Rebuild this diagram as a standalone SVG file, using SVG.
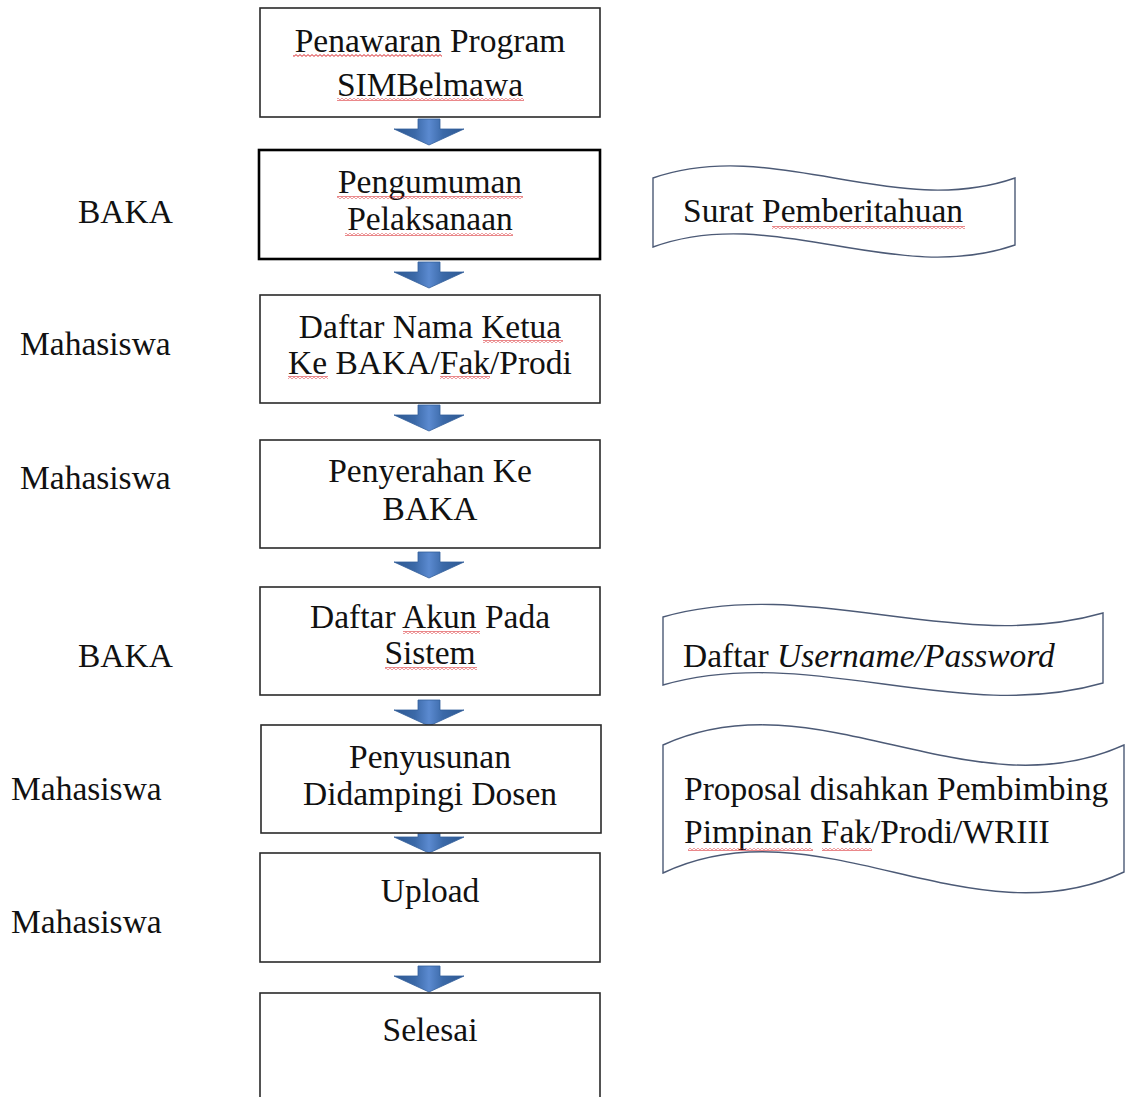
<svg xmlns="http://www.w3.org/2000/svg" xmlns:xlink="http://www.w3.org/1999/xlink" width="1126" height="1097" viewBox="0 0 1126 1097">
<style>
text{font-family:"Liberation Serif","Times New Roman",serif;font-size:33.5px;fill:#111}
.c{text-anchor:middle}
.box{fill:#fff;stroke:#2a2a2a;stroke-width:1.6}
.box2{fill:#fff;stroke:#000;stroke-width:2.6}
.ban{fill:#fff;stroke:#4c5a76;stroke-width:1.4}
.sq{fill:url(#sqp)}
</style>
<defs>
<linearGradient id="ag" x1="0" y1="0" x2="1" y2="0">
<stop offset="0" stop-color="#2d5891"/>
<stop offset="0.3" stop-color="#3b69a8"/>
<stop offset="0.5" stop-color="#5b8ad0"/>
<stop offset="0.7" stop-color="#3b69a8"/>
<stop offset="1" stop-color="#2d5891"/>
</linearGradient>
<path id="arr" d="M-11,0 H11 V10 H35 L0,26 L-35,10 H-11 Z" fill="url(#ag)" stroke="#34609c" stroke-width="0.8"/>
<pattern id="sqp" x="0" y="0" width="4" height="3" patternUnits="userSpaceOnUse">
<path d="M0,0.6 L2,2.4 L4,0.6" fill="none" stroke="#d9262b" stroke-width="1"/>
</pattern>
</defs>
<rect width="1126" height="1097" fill="#fff"/>

<g id="connectors">
<use href="#arr" x="429" y="119"/>
<use href="#arr" x="429" y="262"/>
<use href="#arr" x="429" y="405"/>
<use href="#arr" x="429" y="552"/>
<use href="#arr" x="429" y="700"/>
<use href="#arr" x="429" y="827"/>
<use href="#arr" x="429" y="966"/>
</g>

<g id="node-penawaran">
<rect class="box" x="260" y="8" width="340" height="109"/>
<text class="c" x="430" y="52">Penawaran Program</text>
<text class="c" x="430" y="96">SIMBelmawa</text>
<rect class="sq" x="293" y="54" width="149" height="3"/>
<rect class="sq" x="337" y="98" width="187" height="3"/>
</g>

<g id="node-pengumuman">
<rect class="box2" x="259" y="150" width="341" height="109"/>
<text class="c" x="430" y="193">Pengumuman</text>
<text class="c" x="430" y="230">Pelaksanaan</text>
<rect class="sq" x="337" y="196" width="186" height="3"/>
<rect class="sq" x="345" y="233" width="168" height="3"/>
</g>

<g id="node-daftar-nama">
<rect class="box" x="260" y="295" width="340" height="108"/>
<text class="c" x="430" y="338">Daftar Nama Ketua</text>
<text class="c" x="430" y="374">Ke BAKA/Fak/Prodi</text>
<rect class="sq" x="483" y="340" width="80" height="3"/>
<rect class="sq" x="288" y="376" width="40" height="3"/>
<rect class="sq" x="440" y="376" width="50" height="3"/>
</g>

<g id="node-penyerahan">
<rect class="box" x="260" y="440" width="340" height="108"/>
<text class="c" x="430" y="482">Penyerahan Ke</text>
<text class="c" x="430" y="520">BAKA</text>
</g>

<g id="node-daftar-akun">
<rect class="box" x="260" y="587" width="340" height="108"/>
<text class="c" x="430" y="628">Daftar Akun Pada</text>
<text class="c" x="430" y="664">Sistem</text>
<rect class="sq" x="403" y="631" width="77" height="3"/>
<rect class="sq" x="385" y="667" width="92" height="3"/>
</g>

<g id="node-penyusunan">
<rect class="box" x="261" y="725" width="340" height="108"/>
<text class="c" x="430" y="768">Penyusunan</text>
<text class="c" x="430" y="805">Didampingi Dosen</text>
</g>

<g id="node-upload">
<rect class="box" x="260" y="853" width="340" height="109"/>
<text class="c" x="430" y="902">Upload</text>
</g>

<g id="node-selesai">
<rect class="box" x="260" y="993" width="340" height="120"/>
<text class="c" x="430" y="1041">Selesai</text>
</g>

<g id="actor-labels">
<text x="78" y="223">BAKA</text>
<text x="20" y="355">Mahasiswa</text>
<text x="20" y="489">Mahasiswa</text>
<text x="78" y="667">BAKA</text>
<text x="11" y="800">Mahasiswa</text>
<text x="11" y="933">Mahasiswa</text>
</g>

<g id="doc-surat">
<path class="ban" d="M653,178 C774,136 894,220 1015,178 L1015,245 C894,287 774,203 653,247 Z"/>
<text x="683" y="222">Surat Pemberitahuan</text>
<rect class="sq" x="772" y="226" width="193" height="3"/>
</g>

<g id="doc-username">
<path class="ban" d="M663,617 C810,575 957,655 1103,613 L1103,683 C957,725 810,643 663,685 Z"/>
<text x="683" y="667">Daftar <tspan font-style="italic">Username/Password</tspan></text>
</g>

<g id="doc-proposal">
<path class="ban" d="M663,745 C817,675 970,815 1124,745 L1124,872 C970,944 817,800 663,873 Z"/>
<text x="684" y="800">Proposal disahkan Pembimbing</text>
<text x="684" y="843">Pimpinan Fak/Prodi/WRIII</text>
<rect class="sq" x="688" y="848" width="125" height="3"/>
<rect class="sq" x="822" y="848" width="50" height="3"/>
</g>
</svg>
